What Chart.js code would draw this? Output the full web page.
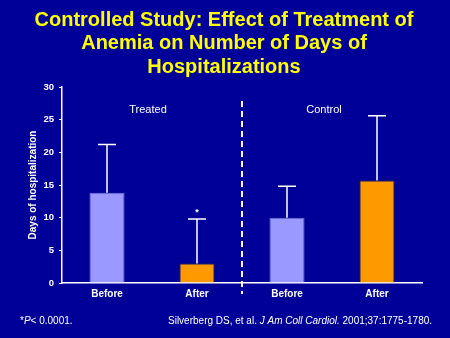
<!DOCTYPE html>
<html>
<head>
<meta charset="utf-8">
<script src="https://cdn.jsdelivr.net/npm/chart.js@4"></script>
<style>
  html, body { margin: 0; padding: 0; background: #000099; }
  #wrap { width: 450px; height: 338px; position: relative; }
</style>
</head>
<body>
<div id="wrap"><canvas id="chart" width="450" height="338"></canvas></div>
<script>
// values
var categories = ['Before', 'After', 'Before', 'After'];
var days = [13.8, 3.0, 10.0, 15.7];          // mean days of hospitalization
var errorUp = [7.4, 6.8, 4.8, 9.9];          // upper error bar (SD)
var groups = ['Treated', 'Control'];
var yTicks = [0, 5, 10, 15, 20, 25, 30];

var barColors = ['#9999FF', '#FF9900', '#9999FF', '#FF9900'];
var titleLines = ['Controlled Study: Effect of Treatment of', 'Anemia on Number of Days of', 'Hospitalizations'];

// error bars, divider, group labels, footnotes
var extras = {
    id: 'extras',
    afterDatasetsDraw: function(chart) {
        var ctx = chart.ctx;
        var x = chart.scales.x, y = chart.scales.y;
        ctx.save();
        ctx.strokeStyle = '#FFFFFF';
        ctx.lineWidth = 1.5;
        days.forEach(function(v, i) {
            var cx = x.getPixelForValue(i);
            var yTop = y.getPixelForValue(v);
            var yErr = y.getPixelForValue(v + errorUp[i]);
            ctx.beginPath();
            ctx.moveTo(cx, yTop);
            ctx.lineTo(cx, yErr);
            ctx.moveTo(cx - 9, yErr);
            ctx.lineTo(cx + 9, yErr);
            ctx.stroke();
        });

        // dashed separator between groups
        var mid = (x.getPixelForValue(1) + x.getPixelForValue(2)) / 2;
        ctx.lineWidth = 2;
        ctx.setLineDash([6, 4]);
        ctx.beginPath();
        ctx.moveTo(mid, 101);
        ctx.lineTo(mid, 294);
        ctx.stroke();
        ctx.setLineDash([]);

        ctx.fillStyle = '#FFFFFF';
        ctx.textAlign = 'center';
        ctx.textBaseline = 'middle';
        ctx.font = '11px "Liberation Sans", Arial, sans-serif';
        ctx.fillText(groups[0], (x.getPixelForValue(0) + x.getPixelForValue(1)) / 2 - 4, 110);
        ctx.fillText(groups[1], (x.getPixelForValue(2) + x.getPixelForValue(3)) / 2 - 8, 110);

        // significance mark
        ctx.font = 'bold 9px "Liberation Sans", Arial, sans-serif';
        ctx.fillText('*', x.getPixelForValue(1), y.getPixelForValue(days[1] + errorUp[1]) - 6);

        // title
        ctx.fillStyle = '#FFFF00';
        ctx.font = 'bold 20px "Liberation Sans", Arial, sans-serif';
        ctx.textBaseline = 'alphabetic';
        titleLines.forEach(function(t, i) {
            ctx.fillText(t, 224, 26 + i * 23.3);
        });

        // footnotes
        ctx.fillStyle = '#FFFFFF';
        ctx.textAlign = 'left';
        var fy = 324;
        var px = 20;
        var parts = [['*', 'normal'], ['P', 'italic'], ['< 0.0001.', 'normal']];
        parts.forEach(function(p) {
            ctx.font = p[1] + ' 10px "Liberation Sans", Arial, sans-serif';
            ctx.fillText(p[0], px, fy);
            px += ctx.measureText(p[0]).width;
        });
        px = 168;
        var cite = [['Silverberg DS, et al. ', 'normal'], ['J Am Coll Cardiol.', 'italic'], [' 2001;37:1775-1780.', 'normal']];
        cite.forEach(function(p) {
            ctx.font = p[1] + ' 10px "Liberation Sans", Arial, sans-serif';
            ctx.fillText(p[0], px, fy);
            px += ctx.measureText(p[0]).width;
        });
        ctx.restore();
    }
};

var ctx = document.getElementById('chart').getContext('2d');
var myChart = new Chart(ctx, {
    type: 'bar',
    data: {
        labels: categories,
        datasets: [{
            data: days,
            backgroundColor: barColors,
            borderColor: ['#7777CC', '#333333', '#7777CC', '#333333'],
            borderWidth: 1,
            borderSkipped: 'bottom',
            categoryPercentage: 1,
            barPercentage: 0.39
        }]
    },
    options: {
        responsive: false,
        animation: false,
        layout: { padding: { top: 87, left: 21, right: 28, bottom: 33 } },
        plugins: {
            legend: { display: false },
            tooltip: { enabled: false }
        },
        scales: {
            x: {
                grid: { display: false },
                border: { color: '#FFFFFF', width: 1.5 },
                ticks: {
                    color: '#FFFFFF',
                    padding: -3,
                    font: { family: '"Liberation Sans", Arial, sans-serif', size: 10, weight: 'bold' }
                },
                afterFit: function(scale) { scale.height = 22; }
            },
            y: {
                min: 0,
                max: 30,
                afterBuildTicks: function(scale) {
                    scale.ticks = yTicks.map(function(v) { return { value: v }; });
                },
                grid: { drawOnChartArea: false, drawTicks: true, tickLength: 3, color: '#FFFFFF' },
                border: { color: '#FFFFFF', width: 1.5 },
                ticks: {
                    color: '#FFFFFF',
                    padding: 5,
                    font: { family: '"Liberation Sans", Arial, sans-serif', size: 9.5, weight: 'bold' }
                },
                title: {
                    display: true,
                    text: 'Days of hospitalization',
                    color: '#FFFFFF',
                    padding: { top: 6, bottom: 3 },
                    font: { family: '"Liberation Sans", Arial, sans-serif', size: 10, weight: 'bold' }
                },
                afterFit: function(scale) { scale.width = 41; }
            }
        }
    },
    plugins: [extras]
});
</script>
</body>
</html>
